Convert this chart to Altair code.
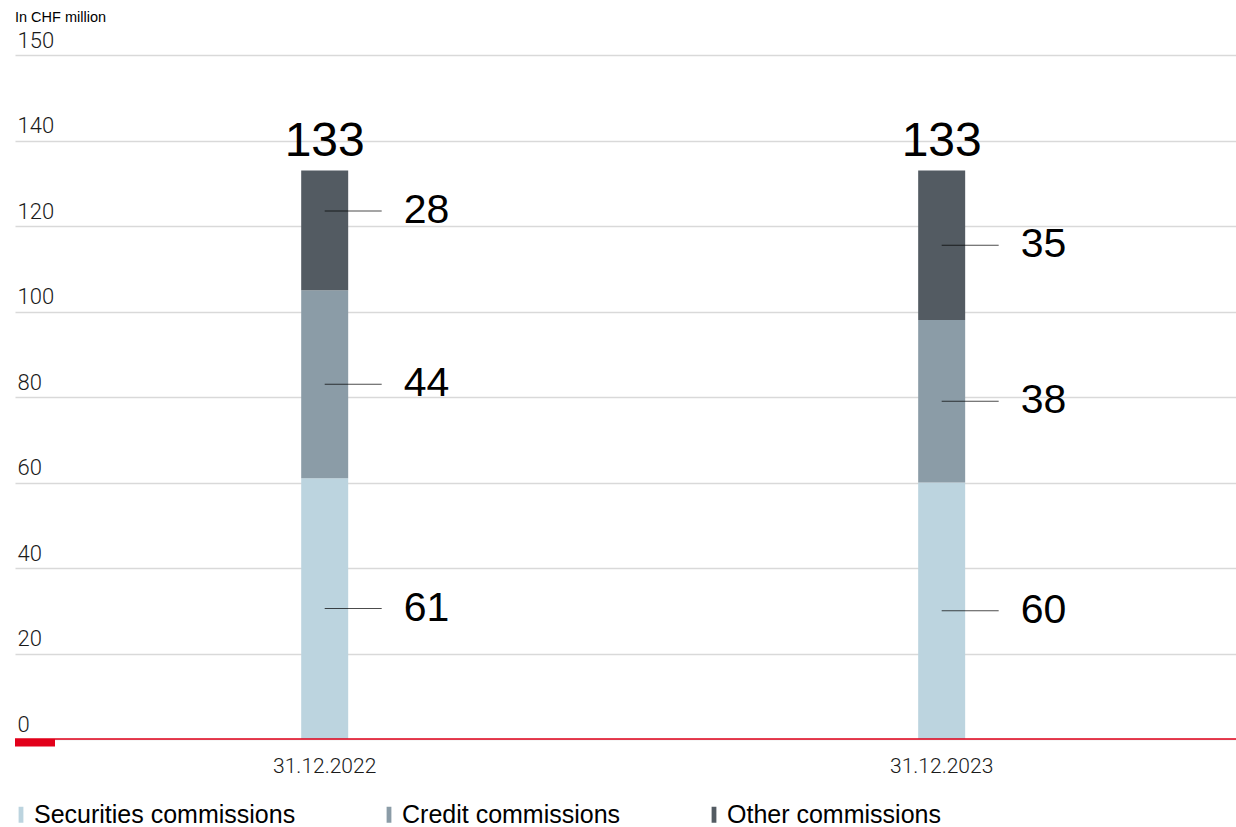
import altair as alt
import pandas as pd

# Commission income, stacked by type, at two reporting dates
dates = ["31.12.2022", "31.12.2023"]
series = ["Securities commissions", "Credit commissions", "Other commissions"]
securities = [61, 60]
credit = [44, 38]
other = [28, 35]
colors = ["#bcd4df", "#8b9ca7", "#535b62"]
unit_note = "In CHF million"

# y gridlines; the topmost line carries the label "150"
y_ticks = [0, 20, 40, 60, 80, 100, 120, 140, 160]
top_tick_label = "150"

# keeps the top segment label clear of the total above it
label_lift = {("31.12.2022", "Other commissions"): 4.5}

rows = []
totals = []
for i, d in enumerate(dates):
    base = 0
    for k, (name, vals) in enumerate(zip(series, [securities, credit, other])):
        v = vals[i]
        rows.append(dict(date=d, series=name, order=k, value=v,
                         start=base, end=base + v,
                         label_at=base + v / 2 + label_lift.get((d, name), 0)))
        base += v
    totals.append(dict(date=d, total=base))
df = pd.DataFrame(rows)
df_tot = pd.DataFrame(totals)
df_base = pd.DataFrame({"v": [0]})

AXIS_FONT = "Roboto"
LABEL_FONT = "Liberation Sans"

x_enc = alt.X(
    "date:N", sort=dates,
    scale=alt.Scale(type="band", paddingInner=0.5, paddingOuter=0.2395, align=0.526),
    axis=alt.Axis(title=None, domain=False, ticks=False, labelAngle=0,
                  labelFont=AXIS_FONT, labelFontSize=21, labelFontWeight=300,
                  labelColor="#1a1a1a", labelPadding=16),
)

y_scale = alt.Scale(domain=[0, 160], nice=False, zero=True)
y_axis = alt.Axis(
    title=None, values=y_ticks, domain=False, ticks=False, tickSize=0,
    labelExpr=f"datum.value == {y_ticks[-1]} ? '{top_tick_label}' : datum.label",
    labelAlign="left", labelBaseline="alphabetic", labelPadding=-2, labelOffset=-8,
    labelFont=AXIS_FONT, labelFontSize=22, labelFontWeight=300, labelColor="#1a1a1a",
    gridColor="#d9d9d9", gridWidth=1.5,
)


def y_of(field):
    return alt.Y(f"{field}:Q", scale=y_scale, axis=y_axis)


bars = alt.Chart(df).mark_bar(size=47).encode(
    x=x_enc,
    y=y_of("start"),
    y2="end:Q",
    color=alt.Color(
        "series:N",
        scale=alt.Scale(domain=series, range=colors),
        legend=alt.Legend(
            title=None, orient="none", direction="horizontal",
            legendX=-6.5, legendY=747,
            symbolType="M-0.6,-2H0.6V2H-0.6Z", symbolSize=64,
            symbolStrokeWidth=0, labelFont=LABEL_FONT, labelFontSize=25,
            labelColor="#000000", labelOffset=0.5, labelLimit=500,
            columnPadding=81, padding=0,
        ),
    ),
)

leaders = alt.Chart(df).mark_tick(size=57, thickness=1, xOffset=28.5, color="#000000").encode(
    x=x_enc,
    y=y_of("label_at"),
)

seg_labels = alt.Chart(df).mark_text(
    align="left", baseline="middle", dx=79, fontSize=41, font=LABEL_FONT, color="#000000"
).encode(
    x=x_enc,
    y=y_of("label_at"),
    text="value:Q",
)

total_labels = alt.Chart(df_tot).mark_text(
    align="center", baseline="alphabetic", dy=-14, fontSize=48, font=LABEL_FONT, color="#000000"
).encode(
    x=x_enc,
    y=y_of("total"),
    text="total:Q",
)

baseline = alt.Chart(df_base).mark_rule(color="#e2001a", strokeWidth=1.5).encode(
    y=y_of("v"),
)

baseline_marker = alt.Chart(df_base).mark_rect(color="#e2001a").encode(
    x=alt.value(0), x2=alt.value(40), y=alt.value(684), y2=alt.value(691.5),
)

# unit caption above the plot
caption = alt.Chart(df_base).mark_text(
    align="left", baseline="alphabetic", fontSize=14.5, font=LABEL_FONT, color="#000000"
).encode(
    x=alt.value(0), y=alt.value(-33), text=alt.value(unit_note),
)

chart = alt.layer(
    bars, leaders, seg_labels, total_labels, baseline, baseline_marker, caption
).properties(
    width=1221,
    height=684,
    autosize=alt.AutoSizeParams(type="none"),
    padding={"left": 15, "top": 55, "right": 0, "bottom": 88},
).configure_view(stroke=None)

chart.save("out.html", embed_options={"renderer": "svg", "actions": False})
